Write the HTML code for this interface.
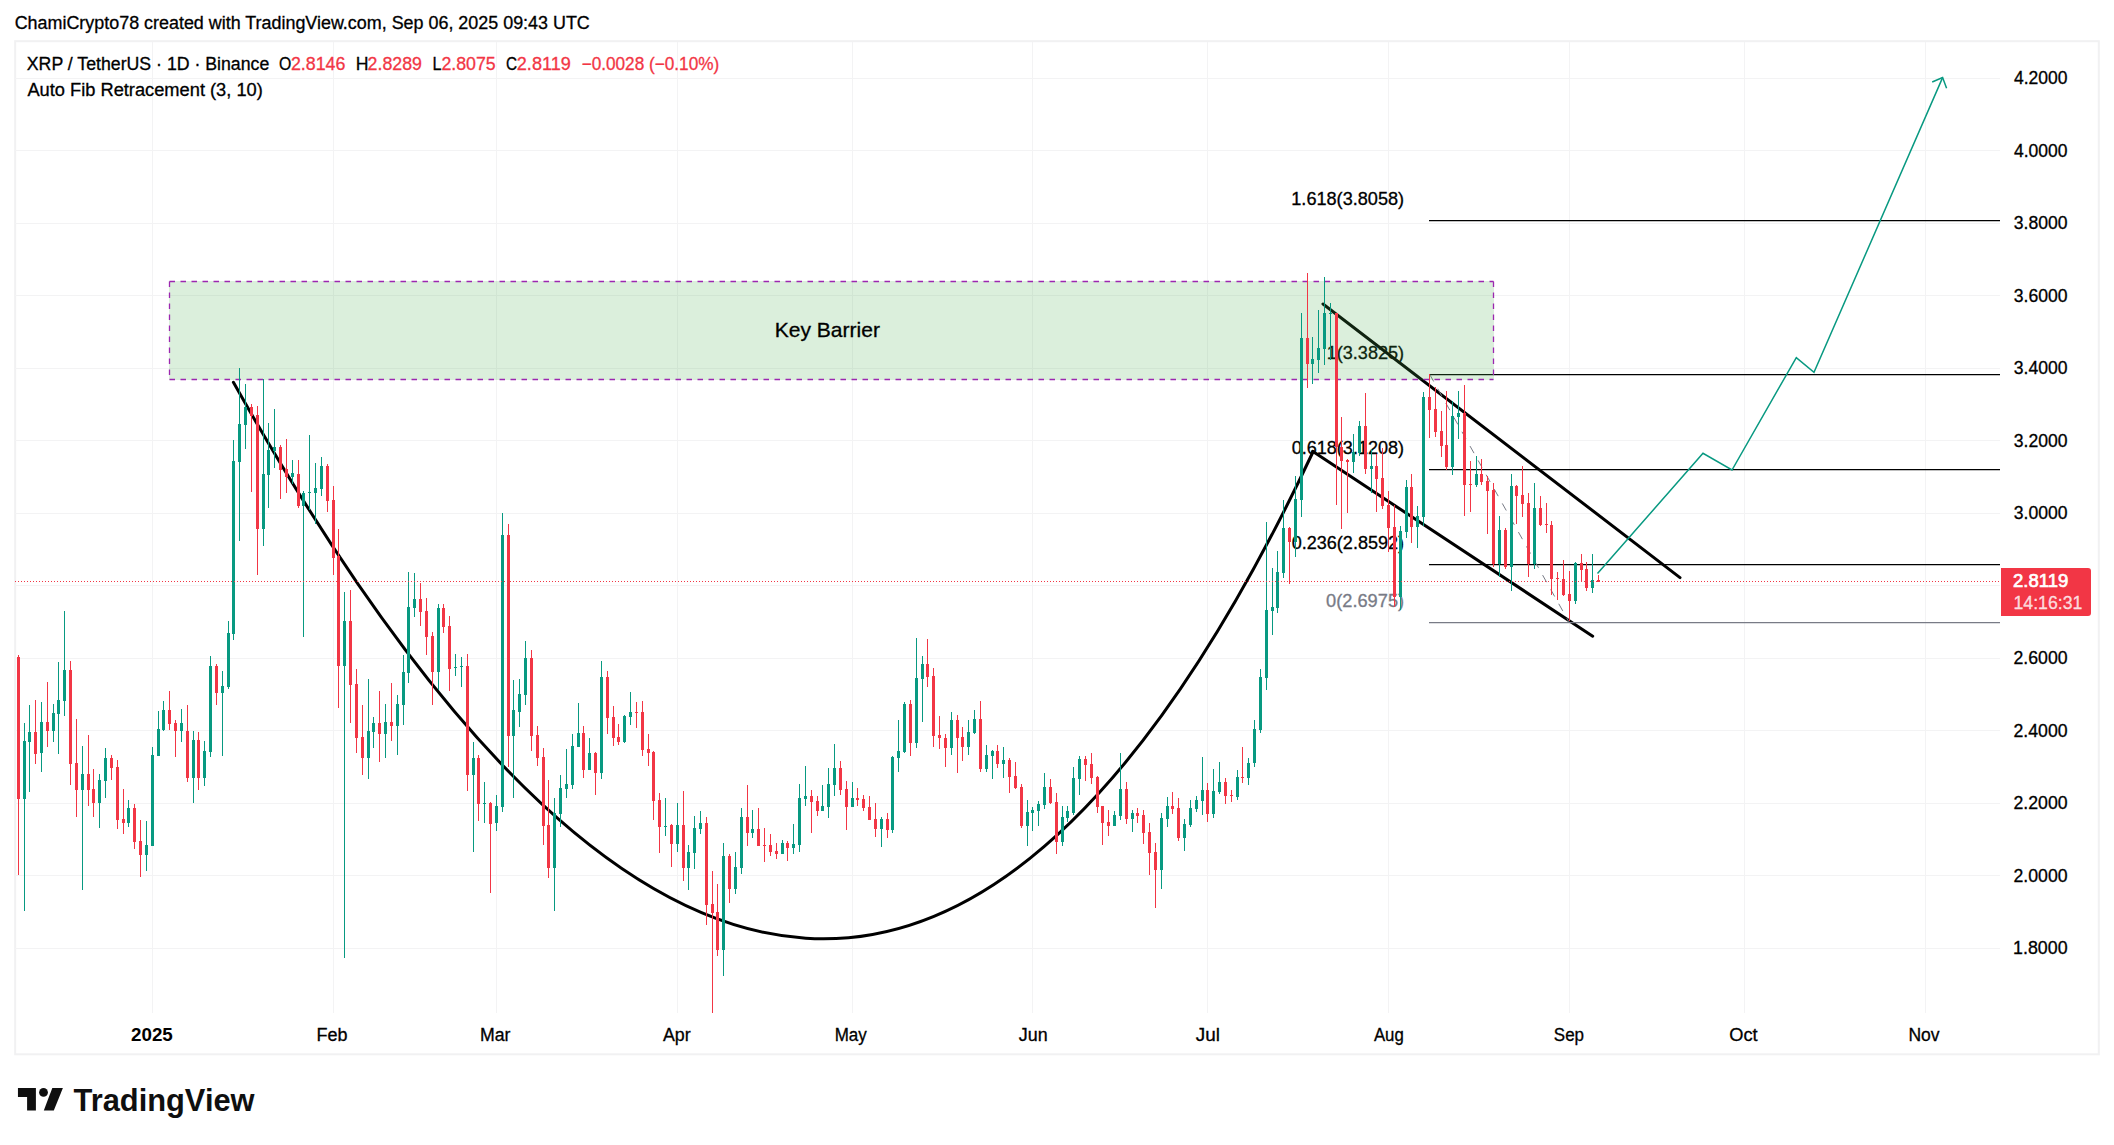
<!DOCTYPE html>
<html lang="en"><head><meta charset="utf-8"><title>XRP / TetherUS chart</title>
<style>
html,body{margin:0;padding:0;background:#fff;}
body{width:2114px;height:1145px;overflow:hidden;}
svg{display:block;}
text{font-family:"Liberation Sans",Arial,sans-serif;fill:#000;stroke:#000;stroke-width:0.3px;}
.t{font-size:16.7px;}
.r{fill:#f23645;stroke:#f23645;}
</style></head><body>
<svg width="2114" height="1145" viewBox="0 0 2114 1145">
<rect width="2114" height="1145" fill="#fff"/>

<rect x="15.15" y="41.2" width="2083.65" height="1013.0999999999999" fill="none" stroke="#f1f1f2" stroke-width="2"/>
<g stroke="#f3f3f4" stroke-width="1" shape-rendering="crispEdges">
<line x1="152.5" y1="42.2" x2="152.5" y2="1012.5"/>
<line x1="333.5" y1="42.2" x2="333.5" y2="1012.5"/>
<line x1="496.5" y1="42.2" x2="496.5" y2="1012.5"/>
<line x1="677.5" y1="42.2" x2="677.5" y2="1012.5"/>
<line x1="852.5" y1="42.2" x2="852.5" y2="1012.5"/>
<line x1="1032.5" y1="42.2" x2="1032.5" y2="1012.5"/>
<line x1="1207.5" y1="42.2" x2="1207.5" y2="1012.5"/>
<line x1="1388.5" y1="42.2" x2="1388.5" y2="1012.5"/>
<line x1="1569.5" y1="42.2" x2="1569.5" y2="1012.5"/>
<line x1="1744.5" y1="42.2" x2="1744.5" y2="1012.5"/>
<line x1="1925.5" y1="42.2" x2="1925.5" y2="1012.5"/>
<line x1="15" y1="78.5" x2="2000" y2="78.5"/>
<line x1="15" y1="150.5" x2="2000" y2="150.5"/>
<line x1="15" y1="223.5" x2="2000" y2="223.5"/>
<line x1="15" y1="295.5" x2="2000" y2="295.5"/>
<line x1="15" y1="368.5" x2="2000" y2="368.5"/>
<line x1="15" y1="440.5" x2="2000" y2="440.5"/>
<line x1="15" y1="513.5" x2="2000" y2="513.5"/>
<line x1="15" y1="585.5" x2="2000" y2="585.5"/>
<line x1="15" y1="658.5" x2="2000" y2="658.5"/>
<line x1="15" y1="730.5" x2="2000" y2="730.5"/>
<line x1="15" y1="803.5" x2="2000" y2="803.5"/>
<line x1="15" y1="875.5" x2="2000" y2="875.5"/>
<line x1="15" y1="948.5" x2="2000" y2="948.5"/>
</g>
<path d="M233.4 382.3 Q838.3 1459.6 1313.2 451.5" fill="none" stroke="#000" stroke-width="3" stroke-linecap="round"/>
<line x1="1312.6" y1="451.3" x2="1592.7" y2="636.2" stroke="#000" stroke-width="3" stroke-linecap="round"/>
<line x1="1323" y1="304" x2="1680" y2="577.6" stroke="#000" stroke-width="3" stroke-linecap="round"/>
<line x1="1429" y1="220.5" x2="2000" y2="220.5" stroke="#000" stroke-width="1.25"/>
<line x1="1429" y1="374.5" x2="2000" y2="374.5" stroke="#000" stroke-width="1.25"/>
<line x1="1429" y1="469.5" x2="2000" y2="469.5" stroke="#000" stroke-width="1.25"/>
<line x1="1429" y1="564.5" x2="2000" y2="564.5" stroke="#000" stroke-width="1.25"/>
<line x1="1429" y1="622.5" x2="2000" y2="622.5" stroke="#787b86" stroke-width="1.25"/>
<line x1="1429.7" y1="374.4" x2="1569" y2="622" stroke="#787b86" stroke-width="1" stroke-dasharray="8.1 8.35"/>
<text x="1291.29" y="205.0" font-size="18" textLength="112.81" lengthAdjust="spacingAndGlyphs" style="fill:#000;stroke:#000">1.618(3.8058)</text>
<text x="1326.69" y="359.0" font-size="18" textLength="77.41" lengthAdjust="spacingAndGlyphs" style="fill:#000;stroke:#000">1(3.3825)</text>
<text x="1291.7" y="454.0" font-size="18" textLength="112.4" lengthAdjust="spacingAndGlyphs" style="fill:#000;stroke:#000">0.618(3.1208)</text>
<text x="1291.7" y="549.0" font-size="18" textLength="112.4" lengthAdjust="spacingAndGlyphs" style="fill:#000;stroke:#000">0.236(2.8592)</text>
<text x="1326.09" y="607.0" font-size="18" textLength="78.02" lengthAdjust="spacingAndGlyphs" style="fill:#787b86;stroke:#787b86">0(2.6975)</text>
<rect x="169" y="281" width="1325" height="99" fill="rgba(76,175,80,0.2)"/>
<path d="M169.5 281.5 H1493.5 M169.5 379.5 H1493.5 M169.5 281.5 V379.5 M1493.5 281.5 V379.5" fill="none" stroke="#9c27b0" stroke-width="1.3" stroke-dasharray="5.5 5.5"/>
<text x="774.7" y="336.8" font-size="21" textLength="105.2" lengthAdjust="spacingAndGlyphs">Key Barrier</text>
<path d="M1597.5 573.5 L1703 453.3 L1732 470 L1796.3 357.6 L1814 372.4 L1942.6 77.6" fill="none" stroke="#089981" stroke-width="1.5" stroke-linejoin="miter"/>
<path d="M1932.2 82 L1942.6 77.6 L1946.6 88.2" fill="none" stroke="#089981" stroke-width="1.5"/>
<g shape-rendering="crispEdges">
<rect x="18" y="655" width="1" height="220" fill="#f23645"/><rect x="17" y="657" width="3" height="142" fill="#f23645"/>
<rect x="24" y="723" width="1" height="188" fill="#089981"/><rect x="23" y="741" width="3" height="58" fill="#089981"/>
<rect x="29" y="705" width="1" height="87" fill="#089981"/><rect x="28" y="732" width="3" height="10" fill="#089981"/>
<rect x="35" y="700" width="1" height="64" fill="#f23645"/><rect x="34" y="732" width="3" height="22" fill="#f23645"/>
<rect x="41" y="702" width="1" height="70" fill="#089981"/><rect x="40" y="722" width="3" height="31" fill="#089981"/>
<rect x="47" y="682" width="1" height="65" fill="#f23645"/><rect x="46" y="722" width="3" height="9" fill="#f23645"/>
<rect x="53" y="704" width="1" height="38" fill="#089981"/><rect x="52" y="713" width="3" height="18" fill="#089981"/>
<rect x="58" y="662" width="1" height="92" fill="#089981"/><rect x="57" y="700" width="3" height="14" fill="#089981"/>
<rect x="64" y="611" width="1" height="105" fill="#089981"/><rect x="63" y="670" width="3" height="31" fill="#089981"/>
<rect x="70" y="661" width="1" height="124" fill="#f23645"/><rect x="69" y="670" width="3" height="94" fill="#f23645"/>
<rect x="76" y="719" width="1" height="98" fill="#f23645"/><rect x="75" y="763" width="3" height="27" fill="#f23645"/>
<rect x="82" y="746" width="1" height="144" fill="#089981"/><rect x="81" y="774" width="3" height="16" fill="#089981"/>
<rect x="88" y="735" width="1" height="71" fill="#f23645"/><rect x="87" y="774" width="3" height="16" fill="#f23645"/>
<rect x="93" y="769" width="1" height="48" fill="#f23645"/><rect x="92" y="789" width="3" height="14" fill="#f23645"/>
<rect x="99" y="774" width="1" height="54" fill="#089981"/><rect x="98" y="780" width="3" height="23" fill="#089981"/>
<rect x="105" y="748" width="1" height="50" fill="#089981"/><rect x="104" y="758" width="3" height="23" fill="#089981"/>
<rect x="111" y="755" width="1" height="25" fill="#f23645"/><rect x="110" y="758" width="3" height="10" fill="#f23645"/>
<rect x="117" y="760" width="1" height="69" fill="#f23645"/><rect x="116" y="767" width="3" height="53" fill="#f23645"/>
<rect x="123" y="789" width="1" height="45" fill="#f23645"/><rect x="122" y="819" width="3" height="4" fill="#f23645"/>
<rect x="128" y="800" width="1" height="27" fill="#089981"/><rect x="127" y="808" width="3" height="15" fill="#089981"/>
<rect x="134" y="804" width="1" height="45" fill="#f23645"/><rect x="133" y="808" width="3" height="34" fill="#f23645"/>
<rect x="140" y="820" width="1" height="57" fill="#f23645"/><rect x="139" y="841" width="3" height="14" fill="#f23645"/>
<rect x="146" y="821" width="1" height="50" fill="#089981"/><rect x="145" y="845" width="3" height="10" fill="#089981"/>
<rect x="152" y="747" width="1" height="99" fill="#089981"/><rect x="151" y="755" width="3" height="91" fill="#089981"/>
<rect x="158" y="711" width="1" height="45" fill="#089981"/><rect x="157" y="729" width="3" height="27" fill="#089981"/>
<rect x="163" y="701" width="1" height="30" fill="#089981"/><rect x="162" y="710" width="3" height="20" fill="#089981"/>
<rect x="169" y="691" width="1" height="39" fill="#f23645"/><rect x="168" y="710" width="3" height="14" fill="#f23645"/>
<rect x="175" y="720" width="1" height="37" fill="#f23645"/><rect x="174" y="723" width="3" height="8" fill="#f23645"/>
<rect x="181" y="709" width="1" height="33" fill="#089981"/><rect x="180" y="723" width="3" height="8" fill="#089981"/>
<rect x="187" y="705" width="1" height="77" fill="#f23645"/><rect x="186" y="731" width="3" height="47" fill="#f23645"/>
<rect x="193" y="731" width="1" height="72" fill="#089981"/><rect x="192" y="740" width="3" height="38" fill="#089981"/>
<rect x="198" y="732" width="1" height="58" fill="#f23645"/><rect x="197" y="740" width="3" height="38" fill="#f23645"/>
<rect x="204" y="741" width="1" height="45" fill="#089981"/><rect x="203" y="751" width="3" height="27" fill="#089981"/>
<rect x="210" y="656" width="1" height="101" fill="#089981"/><rect x="209" y="666" width="3" height="86" fill="#089981"/>
<rect x="216" y="664" width="1" height="41" fill="#f23645"/><rect x="215" y="666" width="3" height="27" fill="#f23645"/>
<rect x="222" y="671" width="1" height="85" fill="#089981"/><rect x="221" y="686" width="3" height="7" fill="#089981"/>
<rect x="228" y="621" width="1" height="68" fill="#089981"/><rect x="227" y="633" width="3" height="54" fill="#089981"/>
<rect x="233" y="440" width="1" height="200" fill="#089981"/><rect x="232" y="461" width="3" height="173" fill="#089981"/>
<rect x="239" y="368" width="1" height="173" fill="#089981"/><rect x="238" y="424" width="3" height="38" fill="#089981"/>
<rect x="245" y="384" width="1" height="65" fill="#089981"/><rect x="244" y="407" width="3" height="18" fill="#089981"/>
<rect x="251" y="404" width="1" height="88" fill="#f23645"/><rect x="250" y="407" width="3" height="9" fill="#f23645"/>
<rect x="257" y="406" width="1" height="169" fill="#f23645"/><rect x="256" y="415" width="3" height="114" fill="#f23645"/>
<rect x="263" y="379" width="1" height="167" fill="#089981"/><rect x="262" y="474" width="3" height="55" fill="#089981"/>
<rect x="268" y="423" width="1" height="85" fill="#089981"/><rect x="267" y="450" width="3" height="25" fill="#089981"/>
<rect x="274" y="409" width="1" height="59" fill="#089981"/><rect x="273" y="447" width="3" height="4" fill="#089981"/>
<rect x="280" y="445" width="1" height="54" fill="#f23645"/><rect x="279" y="447" width="3" height="23" fill="#f23645"/>
<rect x="286" y="439" width="1" height="54" fill="#f23645"/><rect x="285" y="469" width="3" height="8" fill="#f23645"/>
<rect x="292" y="460" width="1" height="24" fill="#089981"/><rect x="291" y="473" width="3" height="4" fill="#089981"/>
<rect x="298" y="460" width="1" height="48" fill="#f23645"/><rect x="297" y="474" width="3" height="32" fill="#f23645"/>
<rect x="303" y="491" width="1" height="146" fill="#089981"/><rect x="302" y="493" width="3" height="13" fill="#089981"/>
<rect x="309" y="435" width="1" height="75" fill="#089981"/><rect x="308" y="492" width="3" height="1" fill="#089981"/>
<rect x="315" y="463" width="1" height="61" fill="#089981"/><rect x="314" y="488" width="3" height="5" fill="#089981"/>
<rect x="321" y="457" width="1" height="39" fill="#089981"/><rect x="320" y="466" width="3" height="23" fill="#089981"/>
<rect x="327" y="464" width="1" height="48" fill="#f23645"/><rect x="326" y="466" width="3" height="35" fill="#f23645"/>
<rect x="333" y="486" width="1" height="89" fill="#f23645"/><rect x="332" y="500" width="3" height="58" fill="#f23645"/>
<rect x="338" y="529" width="1" height="179" fill="#f23645"/><rect x="337" y="556" width="3" height="110" fill="#f23645"/>
<rect x="344" y="592" width="1" height="366" fill="#089981"/><rect x="343" y="621" width="3" height="45" fill="#089981"/>
<rect x="350" y="590" width="1" height="133" fill="#f23645"/><rect x="349" y="621" width="3" height="64" fill="#f23645"/>
<rect x="356" y="669" width="1" height="84" fill="#f23645"/><rect x="355" y="684" width="3" height="54" fill="#f23645"/>
<rect x="362" y="705" width="1" height="70" fill="#f23645"/><rect x="361" y="737" width="3" height="21" fill="#f23645"/>
<rect x="368" y="679" width="1" height="100" fill="#089981"/><rect x="367" y="731" width="3" height="27" fill="#089981"/>
<rect x="373" y="717" width="1" height="31" fill="#089981"/><rect x="372" y="723" width="3" height="9" fill="#089981"/>
<rect x="379" y="691" width="1" height="71" fill="#f23645"/><rect x="378" y="723" width="3" height="11" fill="#f23645"/>
<rect x="385" y="704" width="1" height="54" fill="#089981"/><rect x="384" y="722" width="3" height="12" fill="#089981"/>
<rect x="391" y="683" width="1" height="58" fill="#f23645"/><rect x="390" y="722" width="3" height="4" fill="#f23645"/>
<rect x="397" y="695" width="1" height="60" fill="#089981"/><rect x="396" y="704" width="3" height="22" fill="#089981"/>
<rect x="403" y="655" width="1" height="70" fill="#089981"/><rect x="402" y="672" width="3" height="33" fill="#089981"/>
<rect x="408" y="572" width="1" height="111" fill="#089981"/><rect x="407" y="607" width="3" height="66" fill="#089981"/>
<rect x="414" y="573" width="1" height="44" fill="#089981"/><rect x="413" y="599" width="3" height="9" fill="#089981"/>
<rect x="420" y="583" width="1" height="43" fill="#f23645"/><rect x="419" y="599" width="3" height="13" fill="#f23645"/>
<rect x="426" y="598" width="1" height="57" fill="#f23645"/><rect x="425" y="611" width="3" height="26" fill="#f23645"/>
<rect x="432" y="632" width="1" height="73" fill="#f23645"/><rect x="431" y="636" width="3" height="36" fill="#f23645"/>
<rect x="438" y="604" width="1" height="86" fill="#089981"/><rect x="437" y="608" width="3" height="64" fill="#089981"/>
<rect x="443" y="604" width="1" height="29" fill="#f23645"/><rect x="442" y="608" width="3" height="19" fill="#f23645"/>
<rect x="449" y="616" width="1" height="75" fill="#f23645"/><rect x="448" y="626" width="3" height="43" fill="#f23645"/>
<rect x="455" y="654" width="1" height="22" fill="#089981"/><rect x="454" y="667" width="3" height="1" fill="#089981"/>
<rect x="461" y="657" width="1" height="30" fill="#089981"/><rect x="460" y="666" width="3" height="1" fill="#089981"/>
<rect x="467" y="654" width="1" height="137" fill="#f23645"/><rect x="466" y="666" width="3" height="109" fill="#f23645"/>
<rect x="473" y="742" width="1" height="110" fill="#089981"/><rect x="472" y="758" width="3" height="17" fill="#089981"/>
<rect x="478" y="755" width="1" height="66" fill="#f23645"/><rect x="477" y="758" width="3" height="46" fill="#f23645"/>
<rect x="484" y="782" width="1" height="41" fill="#089981"/><rect x="483" y="803" width="3" height="1" fill="#089981"/>
<rect x="490" y="802" width="1" height="91" fill="#f23645"/><rect x="489" y="803" width="3" height="21" fill="#f23645"/>
<rect x="496" y="795" width="1" height="36" fill="#089981"/><rect x="495" y="806" width="3" height="17" fill="#089981"/>
<rect x="502" y="513" width="1" height="299" fill="#089981"/><rect x="501" y="535" width="3" height="272" fill="#089981"/>
<rect x="508" y="524" width="1" height="243" fill="#f23645"/><rect x="507" y="535" width="3" height="201" fill="#f23645"/>
<rect x="513" y="680" width="1" height="118" fill="#089981"/><rect x="512" y="710" width="3" height="26" fill="#089981"/>
<rect x="519" y="679" width="1" height="48" fill="#089981"/><rect x="518" y="694" width="3" height="18" fill="#089981"/>
<rect x="525" y="641" width="1" height="64" fill="#089981"/><rect x="524" y="658" width="3" height="37" fill="#089981"/>
<rect x="531" y="650" width="1" height="101" fill="#f23645"/><rect x="530" y="658" width="3" height="78" fill="#f23645"/>
<rect x="537" y="726" width="1" height="40" fill="#f23645"/><rect x="536" y="735" width="3" height="23" fill="#f23645"/>
<rect x="543" y="748" width="1" height="97" fill="#f23645"/><rect x="542" y="757" width="3" height="69" fill="#f23645"/>
<rect x="548" y="780" width="1" height="98" fill="#f23645"/><rect x="547" y="825" width="3" height="43" fill="#f23645"/>
<rect x="554" y="798" width="1" height="113" fill="#089981"/><rect x="553" y="813" width="3" height="55" fill="#089981"/>
<rect x="560" y="775" width="1" height="52" fill="#089981"/><rect x="559" y="788" width="3" height="26" fill="#089981"/>
<rect x="566" y="749" width="1" height="49" fill="#089981"/><rect x="565" y="784" width="3" height="5" fill="#089981"/>
<rect x="572" y="734" width="1" height="55" fill="#089981"/><rect x="571" y="746" width="3" height="39" fill="#089981"/>
<rect x="578" y="703" width="1" height="44" fill="#089981"/><rect x="577" y="733" width="3" height="14" fill="#089981"/>
<rect x="583" y="726" width="1" height="52" fill="#f23645"/><rect x="582" y="733" width="3" height="37" fill="#f23645"/>
<rect x="589" y="738" width="1" height="32" fill="#089981"/><rect x="588" y="753" width="3" height="17" fill="#089981"/>
<rect x="595" y="752" width="1" height="43" fill="#f23645"/><rect x="594" y="753" width="3" height="20" fill="#f23645"/>
<rect x="601" y="661" width="1" height="118" fill="#089981"/><rect x="600" y="677" width="3" height="96" fill="#089981"/>
<rect x="607" y="671" width="1" height="63" fill="#f23645"/><rect x="606" y="677" width="3" height="41" fill="#f23645"/>
<rect x="613" y="706" width="1" height="40" fill="#f23645"/><rect x="612" y="717" width="3" height="21" fill="#f23645"/>
<rect x="618" y="724" width="1" height="21" fill="#f23645"/><rect x="617" y="737" width="3" height="5" fill="#f23645"/>
<rect x="624" y="715" width="1" height="28" fill="#089981"/><rect x="623" y="716" width="3" height="26" fill="#089981"/>
<rect x="630" y="692" width="1" height="33" fill="#089981"/><rect x="629" y="712" width="3" height="5" fill="#089981"/>
<rect x="636" y="702" width="1" height="26" fill="#f23645"/><rect x="635" y="712" width="3" height="1" fill="#f23645"/>
<rect x="642" y="701" width="1" height="55" fill="#f23645"/><rect x="641" y="712" width="3" height="38" fill="#f23645"/>
<rect x="648" y="734" width="1" height="32" fill="#f23645"/><rect x="647" y="749" width="3" height="4" fill="#f23645"/>
<rect x="653" y="751" width="1" height="69" fill="#f23645"/><rect x="652" y="752" width="3" height="49" fill="#f23645"/>
<rect x="659" y="793" width="1" height="60" fill="#f23645"/><rect x="658" y="800" width="3" height="27" fill="#f23645"/>
<rect x="665" y="798" width="1" height="38" fill="#089981"/><rect x="664" y="826" width="3" height="1" fill="#089981"/>
<rect x="671" y="824" width="1" height="43" fill="#f23645"/><rect x="670" y="825" width="3" height="19" fill="#f23645"/>
<rect x="677" y="803" width="1" height="49" fill="#089981"/><rect x="676" y="825" width="3" height="19" fill="#089981"/>
<rect x="683" y="791" width="1" height="90" fill="#f23645"/><rect x="682" y="825" width="3" height="43" fill="#f23645"/>
<rect x="688" y="845" width="1" height="45" fill="#089981"/><rect x="687" y="852" width="3" height="16" fill="#089981"/>
<rect x="694" y="816" width="1" height="53" fill="#089981"/><rect x="693" y="828" width="3" height="25" fill="#089981"/>
<rect x="700" y="811" width="1" height="23" fill="#089981"/><rect x="699" y="823" width="3" height="6" fill="#089981"/>
<rect x="706" y="817" width="1" height="108" fill="#f23645"/><rect x="705" y="823" width="3" height="82" fill="#f23645"/>
<rect x="712" y="871" width="1" height="142" fill="#f23645"/><rect x="711" y="904" width="3" height="9" fill="#f23645"/>
<rect x="717" y="884" width="1" height="72" fill="#f23645"/><rect x="716" y="912" width="3" height="38" fill="#f23645"/>
<rect x="723" y="843" width="1" height="133" fill="#089981"/><rect x="722" y="856" width="3" height="94" fill="#089981"/>
<rect x="729" y="854" width="1" height="49" fill="#f23645"/><rect x="728" y="856" width="3" height="33" fill="#f23645"/>
<rect x="735" y="852" width="1" height="42" fill="#089981"/><rect x="734" y="867" width="3" height="22" fill="#089981"/>
<rect x="741" y="808" width="1" height="66" fill="#089981"/><rect x="740" y="817" width="3" height="51" fill="#089981"/>
<rect x="747" y="785" width="1" height="61" fill="#f23645"/><rect x="746" y="817" width="3" height="16" fill="#f23645"/>
<rect x="752" y="810" width="1" height="28" fill="#089981"/><rect x="751" y="829" width="3" height="4" fill="#089981"/>
<rect x="758" y="808" width="1" height="38" fill="#f23645"/><rect x="757" y="829" width="3" height="17" fill="#f23645"/>
<rect x="764" y="828" width="1" height="34" fill="#f23645"/><rect x="763" y="845" width="3" height="1" fill="#f23645"/>
<rect x="770" y="834" width="1" height="22" fill="#f23645"/><rect x="769" y="845" width="3" height="7" fill="#f23645"/>
<rect x="776" y="843" width="1" height="16" fill="#f23645"/><rect x="775" y="851" width="3" height="3" fill="#f23645"/>
<rect x="782" y="840" width="1" height="14" fill="#089981"/><rect x="781" y="843" width="3" height="11" fill="#089981"/>
<rect x="787" y="841" width="1" height="20" fill="#f23645"/><rect x="786" y="843" width="3" height="5" fill="#f23645"/>
<rect x="793" y="824" width="1" height="30" fill="#089981"/><rect x="792" y="844" width="3" height="4" fill="#089981"/>
<rect x="799" y="784" width="1" height="68" fill="#089981"/><rect x="798" y="798" width="3" height="47" fill="#089981"/>
<rect x="805" y="766" width="1" height="40" fill="#089981"/><rect x="804" y="796" width="3" height="3" fill="#089981"/>
<rect x="811" y="790" width="1" height="43" fill="#f23645"/><rect x="810" y="796" width="3" height="6" fill="#f23645"/>
<rect x="817" y="796" width="1" height="20" fill="#f23645"/><rect x="816" y="801" width="3" height="10" fill="#f23645"/>
<rect x="822" y="785" width="1" height="26" fill="#089981"/><rect x="821" y="806" width="3" height="5" fill="#089981"/>
<rect x="828" y="768" width="1" height="50" fill="#089981"/><rect x="827" y="784" width="3" height="23" fill="#089981"/>
<rect x="834" y="744" width="1" height="52" fill="#089981"/><rect x="833" y="768" width="3" height="17" fill="#089981"/>
<rect x="840" y="761" width="1" height="34" fill="#f23645"/><rect x="839" y="768" width="3" height="22" fill="#f23645"/>
<rect x="846" y="781" width="1" height="49" fill="#f23645"/><rect x="845" y="789" width="3" height="18" fill="#f23645"/>
<rect x="852" y="782" width="1" height="25" fill="#089981"/><rect x="851" y="798" width="3" height="9" fill="#089981"/>
<rect x="857" y="788" width="1" height="18" fill="#f23645"/><rect x="856" y="798" width="3" height="2" fill="#f23645"/>
<rect x="863" y="795" width="1" height="16" fill="#f23645"/><rect x="862" y="799" width="3" height="9" fill="#f23645"/>
<rect x="869" y="796" width="1" height="24" fill="#f23645"/><rect x="868" y="807" width="3" height="13" fill="#f23645"/>
<rect x="875" y="803" width="1" height="34" fill="#f23645"/><rect x="874" y="819" width="3" height="10" fill="#f23645"/>
<rect x="881" y="817" width="1" height="30" fill="#089981"/><rect x="880" y="819" width="3" height="10" fill="#089981"/>
<rect x="887" y="813" width="1" height="25" fill="#f23645"/><rect x="886" y="819" width="3" height="11" fill="#f23645"/>
<rect x="892" y="756" width="1" height="77" fill="#089981"/><rect x="891" y="757" width="3" height="73" fill="#089981"/>
<rect x="898" y="720" width="1" height="52" fill="#089981"/><rect x="897" y="751" width="3" height="7" fill="#089981"/>
<rect x="904" y="702" width="1" height="51" fill="#089981"/><rect x="903" y="704" width="3" height="48" fill="#089981"/>
<rect x="910" y="700" width="1" height="56" fill="#f23645"/><rect x="909" y="704" width="3" height="39" fill="#f23645"/>
<rect x="916" y="638" width="1" height="110" fill="#089981"/><rect x="915" y="678" width="3" height="65" fill="#089981"/>
<rect x="922" y="656" width="1" height="66" fill="#089981"/><rect x="921" y="664" width="3" height="15" fill="#089981"/>
<rect x="927" y="639" width="1" height="48" fill="#f23645"/><rect x="926" y="664" width="3" height="13" fill="#f23645"/>
<rect x="933" y="668" width="1" height="79" fill="#f23645"/><rect x="932" y="676" width="3" height="60" fill="#f23645"/>
<rect x="939" y="716" width="1" height="33" fill="#f23645"/><rect x="938" y="735" width="3" height="3" fill="#f23645"/>
<rect x="945" y="734" width="1" height="33" fill="#f23645"/><rect x="944" y="738" width="3" height="10" fill="#f23645"/>
<rect x="951" y="712" width="1" height="43" fill="#089981"/><rect x="950" y="720" width="3" height="28" fill="#089981"/>
<rect x="957" y="715" width="1" height="58" fill="#f23645"/><rect x="956" y="720" width="3" height="18" fill="#f23645"/>
<rect x="962" y="727" width="1" height="34" fill="#f23645"/><rect x="961" y="737" width="3" height="10" fill="#f23645"/>
<rect x="968" y="720" width="1" height="35" fill="#089981"/><rect x="967" y="732" width="3" height="15" fill="#089981"/>
<rect x="974" y="710" width="1" height="24" fill="#089981"/><rect x="973" y="719" width="3" height="14" fill="#089981"/>
<rect x="980" y="701" width="1" height="71" fill="#f23645"/><rect x="979" y="719" width="3" height="50" fill="#f23645"/>
<rect x="986" y="745" width="1" height="27" fill="#089981"/><rect x="985" y="755" width="3" height="14" fill="#089981"/>
<rect x="992" y="750" width="1" height="29" fill="#089981"/><rect x="991" y="751" width="3" height="5" fill="#089981"/>
<rect x="997" y="745" width="1" height="23" fill="#f23645"/><rect x="996" y="751" width="3" height="13" fill="#f23645"/>
<rect x="1003" y="747" width="1" height="31" fill="#089981"/><rect x="1002" y="760" width="3" height="4" fill="#089981"/>
<rect x="1009" y="758" width="1" height="35" fill="#f23645"/><rect x="1008" y="760" width="3" height="17" fill="#f23645"/>
<rect x="1015" y="762" width="1" height="27" fill="#f23645"/><rect x="1014" y="776" width="3" height="12" fill="#f23645"/>
<rect x="1021" y="784" width="1" height="44" fill="#f23645"/><rect x="1020" y="787" width="3" height="39" fill="#f23645"/>
<rect x="1027" y="800" width="1" height="46" fill="#089981"/><rect x="1026" y="812" width="3" height="14" fill="#089981"/>
<rect x="1032" y="807" width="1" height="24" fill="#089981"/><rect x="1031" y="810" width="3" height="3" fill="#089981"/>
<rect x="1038" y="801" width="1" height="25" fill="#089981"/><rect x="1037" y="804" width="3" height="7" fill="#089981"/>
<rect x="1044" y="773" width="1" height="36" fill="#089981"/><rect x="1043" y="787" width="3" height="18" fill="#089981"/>
<rect x="1050" y="779" width="1" height="25" fill="#f23645"/><rect x="1049" y="787" width="3" height="16" fill="#f23645"/>
<rect x="1056" y="793" width="1" height="61" fill="#f23645"/><rect x="1055" y="802" width="3" height="40" fill="#f23645"/>
<rect x="1062" y="806" width="1" height="40" fill="#089981"/><rect x="1061" y="817" width="3" height="25" fill="#089981"/>
<rect x="1067" y="806" width="1" height="16" fill="#089981"/><rect x="1066" y="811" width="3" height="7" fill="#089981"/>
<rect x="1073" y="767" width="1" height="48" fill="#089981"/><rect x="1072" y="778" width="3" height="35" fill="#089981"/>
<rect x="1079" y="756" width="1" height="39" fill="#089981"/><rect x="1078" y="759" width="3" height="20" fill="#089981"/>
<rect x="1085" y="756" width="1" height="25" fill="#f23645"/><rect x="1084" y="759" width="3" height="6" fill="#f23645"/>
<rect x="1091" y="753" width="1" height="31" fill="#f23645"/><rect x="1090" y="764" width="3" height="14" fill="#f23645"/>
<rect x="1097" y="776" width="1" height="37" fill="#f23645"/><rect x="1096" y="777" width="3" height="30" fill="#f23645"/>
<rect x="1102" y="806" width="1" height="39" fill="#f23645"/><rect x="1101" y="806" width="3" height="17" fill="#f23645"/>
<rect x="1108" y="810" width="1" height="26" fill="#f23645"/><rect x="1107" y="822" width="3" height="4" fill="#f23645"/>
<rect x="1114" y="811" width="1" height="15" fill="#089981"/><rect x="1113" y="815" width="3" height="11" fill="#089981"/>
<rect x="1120" y="753" width="1" height="67" fill="#089981"/><rect x="1119" y="789" width="3" height="27" fill="#089981"/>
<rect x="1126" y="782" width="1" height="42" fill="#f23645"/><rect x="1125" y="789" width="3" height="30" fill="#f23645"/>
<rect x="1132" y="810" width="1" height="22" fill="#089981"/><rect x="1131" y="813" width="3" height="6" fill="#089981"/>
<rect x="1137" y="808" width="1" height="15" fill="#f23645"/><rect x="1136" y="813" width="3" height="3" fill="#f23645"/>
<rect x="1143" y="810" width="1" height="34" fill="#f23645"/><rect x="1142" y="815" width="3" height="18" fill="#f23645"/>
<rect x="1149" y="823" width="1" height="52" fill="#f23645"/><rect x="1148" y="832" width="3" height="21" fill="#f23645"/>
<rect x="1155" y="843" width="1" height="65" fill="#f23645"/><rect x="1154" y="852" width="3" height="18" fill="#f23645"/>
<rect x="1161" y="813" width="1" height="76" fill="#089981"/><rect x="1160" y="818" width="3" height="52" fill="#089981"/>
<rect x="1167" y="797" width="1" height="30" fill="#089981"/><rect x="1166" y="806" width="3" height="13" fill="#089981"/>
<rect x="1172" y="792" width="1" height="22" fill="#f23645"/><rect x="1171" y="806" width="3" height="3" fill="#f23645"/>
<rect x="1178" y="798" width="1" height="43" fill="#f23645"/><rect x="1177" y="808" width="3" height="30" fill="#f23645"/>
<rect x="1184" y="819" width="1" height="32" fill="#089981"/><rect x="1183" y="824" width="3" height="14" fill="#089981"/>
<rect x="1190" y="800" width="1" height="27" fill="#089981"/><rect x="1189" y="808" width="3" height="17" fill="#089981"/>
<rect x="1196" y="796" width="1" height="16" fill="#089981"/><rect x="1195" y="800" width="3" height="9" fill="#089981"/>
<rect x="1202" y="757" width="1" height="58" fill="#089981"/><rect x="1201" y="790" width="3" height="11" fill="#089981"/>
<rect x="1207" y="783" width="1" height="39" fill="#f23645"/><rect x="1206" y="790" width="3" height="24" fill="#f23645"/>
<rect x="1213" y="769" width="1" height="49" fill="#089981"/><rect x="1212" y="791" width="3" height="23" fill="#089981"/>
<rect x="1219" y="762" width="1" height="32" fill="#089981"/><rect x="1218" y="782" width="3" height="10" fill="#089981"/>
<rect x="1225" y="778" width="1" height="26" fill="#f23645"/><rect x="1224" y="782" width="3" height="14" fill="#f23645"/>
<rect x="1231" y="790" width="1" height="12" fill="#f23645"/><rect x="1230" y="795" width="3" height="1" fill="#f23645"/>
<rect x="1237" y="770" width="1" height="30" fill="#089981"/><rect x="1236" y="777" width="3" height="20" fill="#089981"/>
<rect x="1242" y="747" width="1" height="36" fill="#f23645"/><rect x="1241" y="777" width="3" height="1" fill="#f23645"/>
<rect x="1248" y="758" width="1" height="27" fill="#089981"/><rect x="1247" y="763" width="3" height="15" fill="#089981"/>
<rect x="1254" y="720" width="1" height="47" fill="#089981"/><rect x="1253" y="729" width="3" height="34" fill="#089981"/>
<rect x="1260" y="669" width="1" height="64" fill="#089981"/><rect x="1259" y="677" width="3" height="53" fill="#089981"/>
<rect x="1266" y="522" width="1" height="168" fill="#089981"/><rect x="1265" y="610" width="3" height="68" fill="#089981"/>
<rect x="1272" y="568" width="1" height="67" fill="#089981"/><rect x="1271" y="607" width="3" height="4" fill="#089981"/>
<rect x="1277" y="551" width="1" height="62" fill="#089981"/><rect x="1276" y="572" width="3" height="36" fill="#089981"/>
<rect x="1283" y="500" width="1" height="78" fill="#089981"/><rect x="1282" y="528" width="3" height="45" fill="#089981"/>
<rect x="1289" y="527" width="1" height="57" fill="#f23645"/><rect x="1288" y="528" width="3" height="14" fill="#f23645"/>
<rect x="1295" y="476" width="1" height="81" fill="#089981"/><rect x="1294" y="499" width="3" height="43" fill="#089981"/>
<rect x="1301" y="313" width="1" height="204" fill="#089981"/><rect x="1300" y="338" width="3" height="162" fill="#089981"/>
<rect x="1307" y="273" width="1" height="115" fill="#f23645"/><rect x="1306" y="338" width="3" height="26" fill="#f23645"/>
<rect x="1312" y="337" width="1" height="47" fill="#089981"/><rect x="1311" y="359" width="3" height="5" fill="#089981"/>
<rect x="1318" y="310" width="1" height="63" fill="#089981"/><rect x="1317" y="348" width="3" height="12" fill="#089981"/>
<rect x="1324" y="277" width="1" height="88" fill="#089981"/><rect x="1323" y="313" width="3" height="36" fill="#089981"/>
<rect x="1330" y="303" width="1" height="57" fill="#089981"/><rect x="1329" y="313" width="3" height="1" fill="#089981"/>
<rect x="1336" y="313" width="1" height="192" fill="#f23645"/><rect x="1335" y="313" width="3" height="134" fill="#f23645"/>
<rect x="1341" y="417" width="1" height="112" fill="#f23645"/><rect x="1340" y="447" width="3" height="14" fill="#f23645"/>
<rect x="1347" y="459" width="1" height="54" fill="#f23645"/><rect x="1346" y="460" width="3" height="2" fill="#f23645"/>
<rect x="1353" y="434" width="1" height="39" fill="#089981"/><rect x="1352" y="452" width="3" height="10" fill="#089981"/>
<rect x="1359" y="421" width="1" height="35" fill="#089981"/><rect x="1358" y="426" width="3" height="27" fill="#089981"/>
<rect x="1365" y="393" width="1" height="81" fill="#f23645"/><rect x="1364" y="426" width="3" height="43" fill="#f23645"/>
<rect x="1371" y="449" width="1" height="44" fill="#089981"/><rect x="1370" y="466" width="3" height="3" fill="#089981"/>
<rect x="1376" y="454" width="1" height="58" fill="#f23645"/><rect x="1375" y="466" width="3" height="13" fill="#f23645"/>
<rect x="1382" y="448" width="1" height="61" fill="#f23645"/><rect x="1381" y="478" width="3" height="28" fill="#f23645"/>
<rect x="1388" y="491" width="1" height="61" fill="#f23645"/><rect x="1387" y="505" width="3" height="23" fill="#f23645"/>
<rect x="1394" y="505" width="1" height="102" fill="#f23645"/><rect x="1393" y="527" width="3" height="70" fill="#f23645"/>
<rect x="1400" y="526" width="1" height="84" fill="#089981"/><rect x="1399" y="531" width="3" height="66" fill="#089981"/>
<rect x="1406" y="480" width="1" height="58" fill="#089981"/><rect x="1405" y="487" width="3" height="45" fill="#089981"/>
<rect x="1411" y="474" width="1" height="69" fill="#f23645"/><rect x="1410" y="487" width="3" height="40" fill="#f23645"/>
<rect x="1417" y="506" width="1" height="42" fill="#089981"/><rect x="1416" y="516" width="3" height="11" fill="#089981"/>
<rect x="1423" y="392" width="1" height="134" fill="#089981"/><rect x="1422" y="397" width="3" height="120" fill="#089981"/>
<rect x="1429" y="374" width="1" height="64" fill="#f23645"/><rect x="1428" y="397" width="3" height="13" fill="#f23645"/>
<rect x="1435" y="387" width="1" height="50" fill="#f23645"/><rect x="1434" y="409" width="3" height="23" fill="#f23645"/>
<rect x="1441" y="411" width="1" height="46" fill="#f23645"/><rect x="1440" y="431" width="3" height="15" fill="#f23645"/>
<rect x="1446" y="391" width="1" height="79" fill="#f23645"/><rect x="1445" y="445" width="3" height="22" fill="#f23645"/>
<rect x="1452" y="401" width="1" height="74" fill="#089981"/><rect x="1451" y="416" width="3" height="51" fill="#089981"/>
<rect x="1458" y="391" width="1" height="48" fill="#089981"/><rect x="1457" y="413" width="3" height="4" fill="#089981"/>
<rect x="1464" y="385" width="1" height="131" fill="#f23645"/><rect x="1463" y="413" width="3" height="72" fill="#f23645"/>
<rect x="1470" y="461" width="1" height="51" fill="#f23645"/><rect x="1469" y="484" width="3" height="1" fill="#f23645"/>
<rect x="1476" y="456" width="1" height="31" fill="#089981"/><rect x="1475" y="474" width="3" height="11" fill="#089981"/>
<rect x="1481" y="459" width="1" height="26" fill="#f23645"/><rect x="1480" y="474" width="3" height="8" fill="#f23645"/>
<rect x="1487" y="476" width="1" height="58" fill="#f23645"/><rect x="1486" y="481" width="3" height="10" fill="#f23645"/>
<rect x="1493" y="483" width="1" height="84" fill="#f23645"/><rect x="1492" y="490" width="3" height="74" fill="#f23645"/>
<rect x="1499" y="516" width="1" height="61" fill="#089981"/><rect x="1498" y="530" width="3" height="34" fill="#089981"/>
<rect x="1505" y="528" width="1" height="41" fill="#f23645"/><rect x="1504" y="530" width="3" height="37" fill="#f23645"/>
<rect x="1511" y="474" width="1" height="117" fill="#089981"/><rect x="1510" y="486" width="3" height="81" fill="#089981"/>
<rect x="1516" y="485" width="1" height="39" fill="#f23645"/><rect x="1515" y="486" width="3" height="10" fill="#f23645"/>
<rect x="1522" y="466" width="1" height="51" fill="#f23645"/><rect x="1521" y="495" width="3" height="9" fill="#f23645"/>
<rect x="1528" y="493" width="1" height="84" fill="#f23645"/><rect x="1527" y="503" width="3" height="61" fill="#f23645"/>
<rect x="1534" y="483" width="1" height="86" fill="#089981"/><rect x="1533" y="508" width="3" height="56" fill="#089981"/>
<rect x="1540" y="496" width="1" height="30" fill="#f23645"/><rect x="1539" y="508" width="3" height="17" fill="#f23645"/>
<rect x="1546" y="503" width="1" height="30" fill="#f23645"/><rect x="1545" y="524" width="3" height="1" fill="#f23645"/>
<rect x="1551" y="521" width="1" height="74" fill="#f23645"/><rect x="1550" y="525" width="3" height="54" fill="#f23645"/>
<rect x="1557" y="572" width="1" height="28" fill="#f23645"/><rect x="1556" y="578" width="3" height="1" fill="#f23645"/>
<rect x="1563" y="560" width="1" height="36" fill="#f23645"/><rect x="1562" y="579" width="3" height="16" fill="#f23645"/>
<rect x="1569" y="571" width="1" height="50" fill="#f23645"/><rect x="1568" y="594" width="3" height="7" fill="#f23645"/>
<rect x="1575" y="562" width="1" height="42" fill="#089981"/><rect x="1574" y="563" width="3" height="38" fill="#089981"/>
<rect x="1581" y="554" width="1" height="28" fill="#f23645"/><rect x="1580" y="563" width="3" height="7" fill="#f23645"/>
<rect x="1586" y="562" width="1" height="29" fill="#f23645"/><rect x="1585" y="569" width="3" height="19" fill="#f23645"/>
<rect x="1592" y="554" width="1" height="39" fill="#089981"/><rect x="1591" y="580" width="3" height="8" fill="#089981"/>
<rect x="1598" y="575" width="1" height="7" fill="#f23645"/><rect x="1597" y="580" width="3" height="2" fill="#f23645"/>
</g>
<line x1="15" y1="581.5" x2="2000" y2="581.5" stroke="#f23645" stroke-width="1" stroke-dasharray="1 2" shape-rendering="crispEdges"/>
<text x="2014.01" y="84.0" font-size="18" textLength="53.58" lengthAdjust="spacingAndGlyphs">4.2000</text>
<text x="2014.01" y="156.5" font-size="18" textLength="53.58" lengthAdjust="spacingAndGlyphs">4.0000</text>
<text x="2013.81" y="229.0" font-size="18" textLength="53.78" lengthAdjust="spacingAndGlyphs">3.8000</text>
<text x="2013.81" y="301.5" font-size="18" textLength="53.78" lengthAdjust="spacingAndGlyphs">3.6000</text>
<text x="2013.81" y="374.0" font-size="18" textLength="53.78" lengthAdjust="spacingAndGlyphs">3.4000</text>
<text x="2013.81" y="446.5" font-size="18" textLength="53.78" lengthAdjust="spacingAndGlyphs">3.2000</text>
<text x="2013.81" y="519.0" font-size="18" textLength="53.78" lengthAdjust="spacingAndGlyphs">3.0000</text>
<text x="2013.52" y="664.0" font-size="18" textLength="54.08" lengthAdjust="spacingAndGlyphs">2.6000</text>
<text x="2013.52" y="736.5" font-size="18" textLength="54.08" lengthAdjust="spacingAndGlyphs">2.4000</text>
<text x="2013.52" y="809.0" font-size="18" textLength="54.08" lengthAdjust="spacingAndGlyphs">2.2000</text>
<text x="2013.52" y="881.5" font-size="18" textLength="54.08" lengthAdjust="spacingAndGlyphs">2.0000</text>
<text x="2013.11" y="954.0" font-size="18" textLength="54.49" lengthAdjust="spacingAndGlyphs">1.8000</text>
<path d="M2001 568 H2088 a3 3 0 0 1 3 3 V613 a3 3 0 0 1 -3 3 H2001 Z" fill="#f23645"/>
<text x="2013.07" y="587.4" font-size="18" textLength="55.26" lengthAdjust="spacingAndGlyphs" style="fill:#fff;stroke:#fff;stroke-width:0.7px">2.8119</text>
<text x="2013.52" y="608.8" font-size="18" textLength="68.87" lengthAdjust="spacingAndGlyphs" style="fill:#fff;fill-opacity:.8;stroke:#fff;stroke-opacity:.8;stroke-width:0.3px">14:16:31</text>
<text x="131.07" y="1041" font-size="18" textLength="41.75" lengthAdjust="spacingAndGlyphs" font-weight="bold" style="stroke:none">2025</text>
<text x="316.6" y="1041" font-size="18" textLength="31.01" lengthAdjust="spacingAndGlyphs">Feb</text>
<text x="479.92" y="1041" font-size="18" textLength="30.46" lengthAdjust="spacingAndGlyphs">Mar</text>
<text x="662.9" y="1041" font-size="18" textLength="27.69" lengthAdjust="spacingAndGlyphs">Apr</text>
<text x="834.68" y="1041" font-size="18" textLength="32.12" lengthAdjust="spacingAndGlyphs">May</text>
<text x="1018.8" y="1041" font-size="18" textLength="28.8" lengthAdjust="spacingAndGlyphs">Jun</text>
<text x="1195.79" y="1041" font-size="18" textLength="24.17" lengthAdjust="spacingAndGlyphs">Jul</text>
<text x="1373.9" y="1041" font-size="18" textLength="29.83" lengthAdjust="spacingAndGlyphs">Aug</text>
<text x="1553.85" y="1041" font-size="18" textLength="30.23" lengthAdjust="spacingAndGlyphs">Sep</text>
<text x="1729.19" y="1041" font-size="18" textLength="28.41" lengthAdjust="spacingAndGlyphs">Oct</text>
<text x="1908.44" y="1041" font-size="18" textLength="31.16" lengthAdjust="spacingAndGlyphs">Nov</text>
<text x="14.7" y="28.5" font-size="18" textLength="575.09" lengthAdjust="spacingAndGlyphs">ChamiCrypto78 created with TradingView.com, Sep 06, 2025 09:43 UTC</text>
<text x="26.81" y="69.7" font-size="18" textLength="242.49" lengthAdjust="spacingAndGlyphs">XRP / TetherUS · 1D · Binance</text>
<text x="279.1" y="69.7" font-size="18" textLength="12.31" lengthAdjust="spacingAndGlyphs">O</text>
<text x="290.91" y="69.7" font-size="18" textLength="54.49" lengthAdjust="spacingAndGlyphs" class="r">2.8146</text>
<text x="355.83" y="69.7" font-size="18" textLength="12.74" lengthAdjust="spacingAndGlyphs">H</text>
<text x="367.61" y="69.7" font-size="18" textLength="54.39" lengthAdjust="spacingAndGlyphs" class="r">2.8289</text>
<text x="432.44" y="69.7" font-size="18" textLength="9.02" lengthAdjust="spacingAndGlyphs">L</text>
<text x="441.41" y="69.7" font-size="18" textLength="54.29" lengthAdjust="spacingAndGlyphs" class="r">2.8075</text>
<text x="506.03" y="69.7" font-size="18" textLength="11.08" lengthAdjust="spacingAndGlyphs">C</text>
<text x="516.79" y="69.7" font-size="18" textLength="54.02" lengthAdjust="spacingAndGlyphs" class="r">2.8119</text>
<text x="581.64" y="69.7" font-size="18" textLength="137.61" lengthAdjust="spacingAndGlyphs" class="r">−0.0028 (−0.10%)</text>
<text x="27.4" y="95.6" font-size="18" textLength="235.41" lengthAdjust="spacingAndGlyphs">Auto Fib Retracement (3, 10)</text>
<g fill="#0f0f0f"><path d="M17.95 1088 H35.9 V1110.6 H27.1 V1097 H17.95 Z"/><circle cx="43.5" cy="1092.4" r="4.4"/><path d="M52.3 1088 H62.9 L53.8 1110.6 H43.8 Z"/></g>
<text x="73.5" y="1110.6" font-size="31.4" textLength="181.09" lengthAdjust="spacingAndGlyphs" font-weight="bold" style="fill:#0f0f0f;stroke:none">TradingView</text>
</svg></body></html>
